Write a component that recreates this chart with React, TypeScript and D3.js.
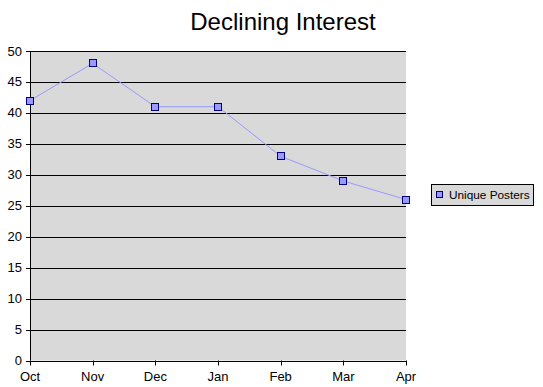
import React from "react";
import * as d3 from "d3";

const months = ["Oct", "Nov", "Dec", "Jan", "Feb", "Mar", "Apr"];
const uniquePosters = [42, 48, 41, 41, 33, 29, 26];
const yTicks = [0, 5, 10, 15, 20, 25, 30, 35, 40, 45, 50];

const App: React.FC = () => {
  const width = 543;
  const height = 387;
  const left = 30;
  const right = 406;
  const top = 51;
  const bottom = 360.5;

  const x = d3.scalePoint<string>().domain(months).range([left, right]);
  const y = d3.scaleLinear().domain([0, 50]).range([bottom, top]);

  const line = d3
    .line<number>()
    .x((_, i) => x(months[i])!)
    .y((d) => y(d));

  const font = "Arial, 'Liberation Sans', sans-serif";

  return (
    <svg
      width={width}
      height={height}
      style={{ position: "absolute", left: 0, top: 0, fontFamily: font }}
    >
      <rect x={0} y={0} width={width} height={height} fill="#fff" />
      <text x={283} y={30} textAnchor="middle" fontSize={24} fill="#000">
        Declining Interest
      </text>

      {/* plot area */}
      <rect x={left} y={top} width={right - left} height={bottom - top} fill="#d9d9d9" />

      {/* gridlines */}
      {yTicks.map((t) => (
        <line
          key={t}
          x1={left - 4}
          x2={right}
          y1={Math.round(y(t)) + 0.5}
          y2={Math.round(y(t)) + 0.5}
          stroke="#000"
          strokeWidth={1}
        />
      ))}
      {yTicks.map((t) => (
        <text
          key={"l" + t}
          x={22}
          y={y(t) + 4.5}
          textAnchor="end"
          fontSize={13}
          fill="#000"
        >
          {t}
        </text>
      ))}

      {/* axes */}
      <line x1={left + 0.5} x2={left + 0.5} y1={top} y2={bottom} stroke="#000" />
      {months.map((m) => (
        <g key={m}>
          <line
            x1={Math.round(x(m)!) + 0.5}
            x2={Math.round(x(m)!) + 0.5}
            y1={bottom}
            y2={bottom + 5}
            stroke="#000"
          />
          <text x={x(m)!} y={381} textAnchor="middle" fontSize={13} fill="#000">
            {m}
          </text>
        </g>
      ))}

      {/* series */}
      <path d={line(uniquePosters)!} fill="none" stroke="#9999ff" strokeWidth={1} />
      {uniquePosters.map((v, i) => (
        <rect
          key={i}
          x={Math.round(x(months[i])!) - 3.5}
          y={Math.round(y(v)) - 3.5}
          width={7}
          height={7}
          fill="#9999ff"
          stroke="#000080"
          strokeWidth={1}
        />
      ))}

      {/* legend */}
      <rect x={431.5} y={184.5} width={102} height={21} fill="#d9d9d9" stroke="#000" />
      <rect x={436.5} y={191.5} width={6} height={6} fill="#9999ff" stroke="#000080" />
      <text x={449} y={199} fontSize={11.8} fill="#000">
        Unique Posters
      </text>
    </svg>
  );
};

export default App;
